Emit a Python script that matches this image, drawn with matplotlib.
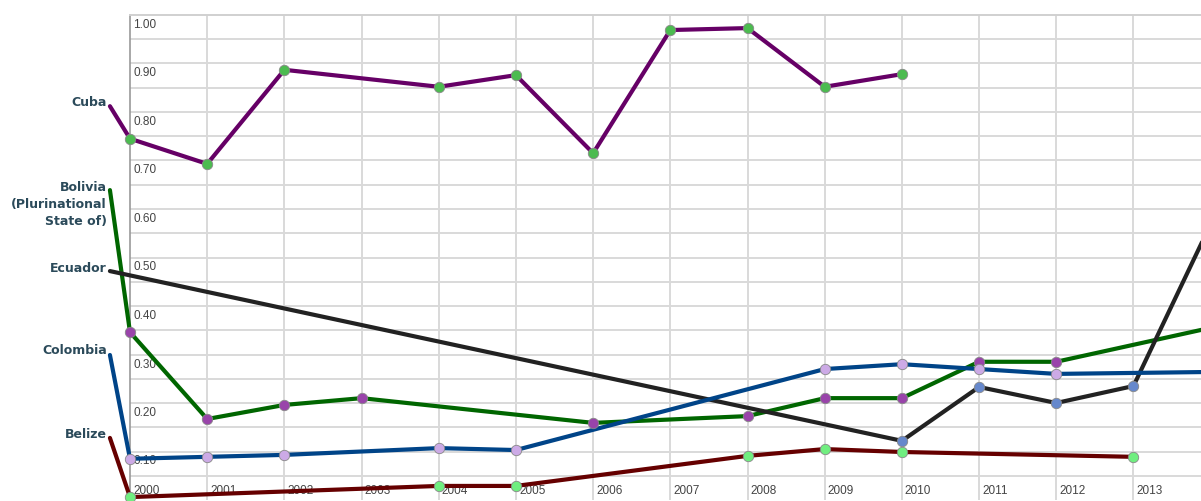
import matplotlib
matplotlib.use("Agg")
import matplotlib.pyplot as plt
import matplotlib.transforms as mtransforms
import numpy as np

# data (missing years have no marker)
countries = ["Cuba", "Bolivia\n(Plurinational\nState of)", "Ecuador", "Colombia", "Belize"]

cuba_years = [2000, 2001, 2002, 2004, 2005, 2006, 2007, 2008, 2009, 2010]
cuba_vals = [0.745, 0.693, 0.887, 0.852, 0.876, 0.715, 0.969, 0.973, 0.852, 0.878]

bolivia_years = [2000, 2001, 2002, 2003, 2006, 2008, 2009, 2010, 2011, 2012, 2014]
bolivia_vals = [0.346, 0.167, 0.196, 0.210, 0.159, 0.173, 0.210, 0.210, 0.285, 0.285, 0.355]

ecuador_years = [2010, 2011, 2012, 2013, 2014]
ecuador_vals = [0.122, 0.233, 0.200, 0.235, 0.569]

colombia_years = [2000, 2001, 2002, 2004, 2005, 2009, 2010, 2011, 2012, 2014]
colombia_vals = [0.085, 0.089, 0.093, 0.107, 0.103, 0.270, 0.280, 0.270, 0.260, 0.264]

belize_years = [2000, 2004, 2005, 2008, 2009, 2010, 2013]
belize_vals = [0.006, 0.029, 0.029, 0.091, 0.105, 0.099, 0.089]

# where each name label sits on the left (value axis)
label_vals = [0.812, 0.639, 0.472, 0.299, 0.128]
label_year = 1999.74

line_colors = ["#660066", "#006600", "#222222", "#004488", "#660000"]
marker_colors = ["#4cbb50", "#9944aa", "#6688cc", "#ccaae6", "#70ee80"]

series = [(cuba_years, cuba_vals), (bolivia_years, bolivia_vals),
          (ecuador_years, ecuador_vals), (colombia_years, colombia_vals),
          (belize_years, belize_vals)]

fig = plt.figure(figsize=(12.01, 5.01), dpi=100)
ax = fig.add_axes([130 / 1201, 1 / 501, 1071 / 1201, 485 / 501])
ax.set_xlim(2000, 2013.875)
ax.set_ylim(0, 1.0)

# grid
for v in np.arange(0.05, 1.0, 0.05):
    ax.axhline(v, color="#d9d9d9", lw=1.4, zorder=0)
for yr in range(2001, 2014):
    ax.axvline(yr, color="#d9d9d9", lw=1.4, zorder=0)

for s in ["right", "bottom"]:
    ax.spines[s].set_visible(False)
ax.spines["left"].set_color("#999999")
ax.spines["left"].set_linewidth(1.2)
ax.spines["top"].set_color("#d0d0d0")
ax.spines["top"].set_linewidth(1.4)
ax.set_xticks([])
ax.set_yticks([])

# tick labels drawn inside the plot area
ytrans = ax.get_yaxis_transform() + mtransforms.ScaledTranslation(3 / 100, -4 / 100, fig.dpi_scale_trans)
for v in np.arange(0.1, 1.01, 0.1):
    ax.text(0, v, "%.2f" % v, transform=ytrans, ha="left", va="top",
            fontsize=8.5, color="#444444", family="Liberation Sans", zorder=1)
xtrans = ax.get_xaxis_transform() + mtransforms.ScaledTranslation(3 / 100, 9 / 100, fig.dpi_scale_trans)
for yr in range(2000, 2014):
    ax.text(yr, 0, str(yr), transform=xtrans, ha="left", va="center",
            fontsize=8.5, color="#444444", family="Liberation Sans", zorder=1)

label_dy = [4, 9, 3, 4, 3]
for i, (yrs, vals) in enumerate(series):
    xs = [label_year] + yrs
    ys = [label_vals[i]] + vals
    ax.plot(xs, ys, color=line_colors[i], lw=3, solid_capstyle="round",
            solid_joinstyle="round", zorder=3, clip_on=False)
    ax.plot(yrs, vals, "o", ms=7.5, mfc=marker_colors[i], mec="#888888",
            mew=0.6, zorder=4, clip_on=False)
    ax.annotate(countries[i], xy=(label_year, label_vals[i]), xycoords="data",
                xytext=(-3, label_dy[i]), textcoords="offset pixels",
                ha="right", va="top" if "\n" in countries[i] else "center",
                fontsize=9, fontweight="bold", color="#2b4a5a",
                annotation_clip=False, linespacing=1.4)

fig.savefig("out.png", dpi=100)
